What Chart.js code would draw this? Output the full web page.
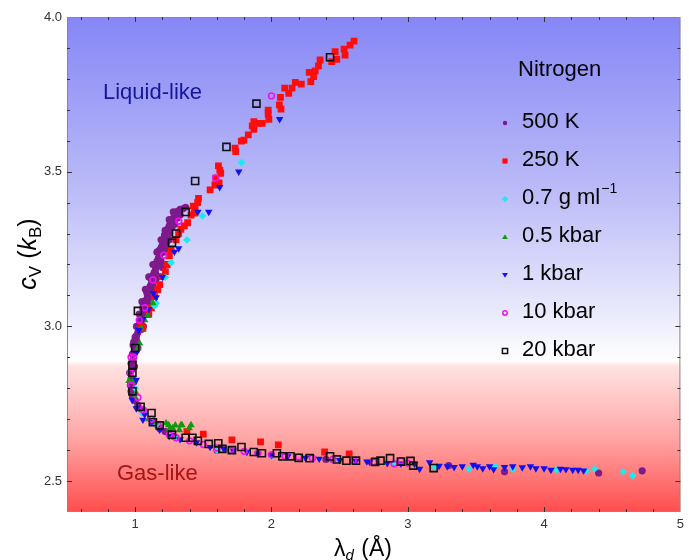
<!DOCTYPE html>
<html><head><meta charset="utf-8">
<script src="https://cdn.jsdelivr.net/npm/chart.js@4.4.0/dist/chart.umd.min.js"></script>
<style>html,body{margin:0;padding:0;background:#fff;}#wrap{width:689px;height:560px;position:relative;}</style>
</head><body><div id="wrap"><canvas id="c" width="689" height="560"></canvas></div>
<script>
// ---- tick labels / categories ----
const xTickLabels = [1, 2, 3, 4, 5];
const yTickLabels = [2.5, 3.0, 3.5, 4.0];
const seriesNames = ["500 K", "250 K", "0.7 g ml", "0.5 kbar", "1 kbar", "10 kbar", "20 kbar"];

// ---- series values [lambda_d (Å), c_V (k_B)] ----
const n500K = [[1.05,2.73],[1.02,2.745],[1.0,2.76],[0.98,2.775],[0.97,2.79],[0.965,2.81],[0.97,2.83],[0.96,2.85],[0.975,2.86],[0.97,2.88],[0.985,2.89],[0.98,2.91],[0.995,2.92],[1.0,2.94],[1.01,2.955],[1.0,2.965],[1.02,2.98],[1.03,2.99],[1.035,3.01],[1.04,3.02],[1.05,3.035],[1.06,3.05],[1.055,3.06],[1.07,3.07],[1.08,3.085],[1.09,3.1],[1.085,3.11],[1.1,3.12],[1.11,3.13],[1.12,3.14],[1.115,3.155],[1.13,3.165],[1.14,3.175],[1.15,3.185],[1.145,3.2],[1.16,3.21],[1.17,3.22],[1.18,3.23],[1.175,3.245],[1.19,3.255],[1.2,3.265],[1.21,3.275],[1.22,3.285],[1.215,3.295],[1.23,3.305],[1.24,3.315],[1.25,3.325],[1.26,3.335],[1.27,3.345],[1.28,3.35],[1.29,3.36],[1.3,3.365],[1.31,3.372],[1.33,3.378],[1.35,3.38],[1.37,3.385],[1.19,3.21],[1.21,3.24],[1.23,3.27],[1.25,3.3],[1.27,3.32],[1.15,3.15],[1.12,3.1],[1.09,3.05],[1.06,3.0],[1.2,3.19],[1.17,3.16],[1.14,3.12],[1.1,3.07],[1.29,3.33],[1.31,3.35],[1.33,3.36],[0.99,2.95],[1.01,2.97],[0.98,2.83],[0.985,2.8],[1.13,3.2],[1.16,3.24],[1.19,3.28],[1.22,3.31],[1.25,3.345],[1.28,3.37],[1.1,3.16],[1.075,3.12],[1.05,3.08],[1.03,3.04],[1.01,3.0],[0.985,2.94],[1.22,3.25],[1.25,3.28],[1.18,3.2],[1.15,3.17],[1.13,3.13],[1.1,3.09],[1.07,3.04],[1.045,2.99],[1.02,2.93],[0.995,2.87],[0.99,2.82],[1.22,2.66],[1.28,2.645],[1.18,2.67],[1.6,2.6],[2.4,2.57],[3.3,2.55],[3.71,2.53],[4.4,2.526],[4.72,2.533]];
const n250K = [[2.606,3.922],[2.577,3.909],[2.533,3.896],[2.467,3.888],[2.54,3.877],[2.479,3.863],[2.442,3.856],[2.357,3.861],[2.345,3.842],[2.321,3.826],[2.277,3.821],[2.309,3.807],[2.289,3.791],[2.219,3.783],[2.175,3.789],[2.151,3.77],[2.097,3.77],[2.127,3.753],[2.066,3.74],[2.058,3.716],[2.07,3.702],[1.976,3.699],[1.976,3.686],[1.981,3.669],[1.932,3.656],[1.908,3.656],[1.871,3.662],[1.859,3.648],[1.871,3.637],[1.83,3.619],[1.798,3.602],[1.779,3.599],[1.733,3.576],[1.738,3.565],[1.611,3.519],[1.621,3.505],[1.628,3.495],[1.592,3.479],[1.616,3.464],[1.585,3.457],[1.55,3.441],[1.465,3.414],[1.458,3.4],[1.426,3.389],[1.434,3.366],[1.44,3.38],[1.41,3.36],[1.385,3.335],[1.361,3.325],[1.336,3.314],[1.319,3.301],[1.3,3.28],[1.264,3.247],[1.251,3.228],[1.235,3.2],[1.222,3.177],[1.198,3.161],[1.18,3.135],[1.166,3.118],[1.142,3.096],[1.12,3.06],[1.1,3.04],[1.057,2.994],[1.045,3.005],[1.38,2.66],[1.5,2.652],[1.71,2.633],[1.92,2.627],[2.05,2.617],[2.39,2.594],[2.57,2.588]];
const n07gml = [[1.78,3.53],[1.494,3.357],[1.38,3.279],[1.264,3.206],[1.222,3.159],[1.154,3.075],[1.142,3.066],[1.0,2.8],[1.05,2.72],[1.15,2.68],[1.3,2.64],[1.6,2.6],[2.0,2.58],[2.5,2.565],[2.9,2.556],[3.2,2.545],[3.45,2.538],[3.64,2.547],[3.77,2.539],[4.09,2.536],[4.31,2.533],[4.37,2.54],[4.58,2.53],[4.65,2.517]];
const n05kbar = [[1.093,3.034],[1.07,3.02],[1.045,2.994],[1.032,2.945],[1.02,2.93],[0.984,2.821],[1.008,2.784],[1.13,3.075],[0.955,2.824],[0.996,2.773],[1.1,2.7],[1.15,2.69],[1.227,2.687],[1.251,2.667],[1.336,2.681],[1.41,2.681],[1.397,2.671],[1.324,2.665],[1.275,2.671],[1.246,2.681],[1.295,2.68],[1.343,2.681]];
const n1kbar = [[2.06,3.67],[1.76,3.5],[1.62,3.45],[1.54,3.37],[1.46,3.37],[1.319,3.252],[1.288,3.241],[1.2,3.16],[1.135,3.107],[1.154,3.094],[1.1,3.056],[1.057,3.023],[1.027,2.988],[1.008,2.913],[1.008,2.827],[0.978,2.762],[1.008,2.735],[1.057,2.698],[1.07,2.715],[1.12,2.69],[1.18,2.665],[1.25,2.645],[1.33,2.635],[1.45,2.625],[1.55,2.61],[1.65,2.605],[1.72,2.598],[1.82,2.594],[1.9,2.588],[2.0,2.584],[2.12,2.58],[2.25,2.575],[2.35,2.572],[2.5,2.568],[2.62,2.565],[2.7,2.563],[2.72,2.562],[2.85,2.558],[2.95,2.556],[3.05,2.555],[3.087,2.539],[3.16,2.56],[3.23,2.549],[3.29,2.547],[3.34,2.545],[3.4,2.547],[3.48,2.552],[3.51,2.547],[3.55,2.541],[3.6,2.547],[3.63,2.538],[3.71,2.545],[3.77,2.547],[3.84,2.544],[3.9,2.547],[3.94,2.541],[4.0,2.541],[4.05,2.536],[4.12,2.539],[4.16,2.538],[4.21,2.536],[4.25,2.536],[4.29,2.534]];
const n10kbar = [[2.0,3.745],[1.59,3.48],[1.32,3.34],[1.21,3.23],[1.13,3.15],[1.07,3.06],[1.03,3.02],[0.97,2.9],[0.99,2.9],[0.965,2.85],[0.97,2.81],[1.02,2.77],[1.06,2.73],[1.12,2.7],[1.17,2.68],[1.25,2.65],[1.3,2.64],[1.4,2.63],[1.5,2.618],[1.6,2.607],[1.7,2.6],[1.8,2.596],[1.9,2.59],[2.0,2.585],[2.1,2.58],[2.2,2.578],[2.3,2.574],[2.45,2.57],[2.6,2.566],[2.75,2.562],[2.9,2.556],[2.95,2.566],[3.0,2.558]];
const n20kbar = [[2.43,3.87],[1.89,3.72],[1.67,3.58],[1.44,3.47],[1.37,3.37],[1.3,3.3],[1.27,3.27],[1.02,3.05],[1.0,2.93],[0.98,2.875],[0.98,2.85],[0.98,2.79],[1.04,2.74],[1.12,2.72],[1.13,2.69],[1.18,2.68],[1.27,2.65],[1.37,2.64],[1.42,2.64],[1.46,2.63],[1.54,2.62],[1.61,2.622],[1.64,2.604],[1.71,2.6],[1.78,2.61],[1.87,2.594],[1.93,2.59],[2.04,2.59],[2.08,2.58],[2.14,2.58],[2.2,2.575],[2.28,2.574],[2.43,2.58],[2.48,2.57],[2.55,2.566],[2.62,2.566],[2.76,2.562],[2.8,2.566],[2.87,2.574],[2.95,2.563],[3.02,2.565],[3.04,2.55],[3.19,2.542]];

// ---- styles ----
const styles = [
  {color:'#7d1a8c', style:'circle', r:3.6, fill:true, rot:0},
  {color:'#ff0d0d', style:'rect', r:4.8, fill:true, rot:0},
  {color:'#1ee8f0', style:'rectRot', r:3.8, fill:true, rot:0},
  {color:'#109a10', style:'triangle', r:4.3, fill:true, rot:0},
  {color:'#1010f0', style:'triangle', r:4.3, fill:true, rot:180},
  {color:'#f010f0', style:'circle', r:2.9, fill:false, rot:0},
  {color:'#111111', style:'rect', r:5.0, fill:false, rot:0}
];
const allSeries = [n500K, n250K, n07gml, n05kbar, n1kbar, n10kbar, n20kbar];

const datasets = allSeries.map((s, i) => ({
  label: seriesNames[i],
  data: s.map(p => ({x: p[0], y: p[1]})),
  pointStyle: styles[i].style,
  pointRadius: styles[i].r,
  pointRotation: styles[i].rot,
  pointBackgroundColor: styles[i].fill ? styles[i].color : 'rgba(0,0,0,0)',
  pointBorderColor: styles[i].color,
  pointBorderWidth: styles[i].fill ? 0 : 1.6,
  showLine: false,
  order: allSeries.length - i
}));

const FONT = '"Liberation Sans", Arial, sans-serif';

const bgPlugin = {
  id: 'bg',
  beforeDatasetsDraw(chart) {
    const {ctx, chartArea: a} = chart;
    const g = ctx.createLinearGradient(0, a.top, 0, a.bottom);
    g.addColorStop(0, '#8686f6');
    g.addColorStop(0.35, '#bbbbf8');
    g.addColorStop(0.62, '#eeeefd');
    g.addColorStop(0.695, '#ffffff');
    g.addColorStop(0.705, '#ffe2e2');
    g.addColorStop(0.85, '#ffa6a6');
    g.addColorStop(1, '#ff4d4d');
    ctx.save();
    ctx.fillStyle = g;
    ctx.fillRect(a.left, a.top, a.right - a.left, a.bottom - a.top);
    ctx.restore();
  }
};

function marker(ctx, st, x, y, r) {
  ctx.save();
  ctx.fillStyle = st.color; ctx.strokeStyle = st.color; ctx.lineWidth = 1.5;
  ctx.beginPath();
  if (st.style === 'circle') { ctx.arc(x, y, r, 0, Math.PI*2); }
  else if (st.style === 'rect') { ctx.rect(x - r, y - r, 2*r, 2*r); }
  else if (st.style === 'rectRot') { ctx.moveTo(x, y - r*1.2); ctx.lineTo(x + r*1.2, y); ctx.lineTo(x, y + r*1.2); ctx.lineTo(x - r*1.2, y); ctx.closePath(); }
  else if (st.style === 'triangle') {
    const d = st.rot ? -1 : 1;
    ctx.moveTo(x, y - d*r*1.1); ctx.lineTo(x + r*1.1, y + d*r*0.8); ctx.lineTo(x - r*1.1, y + d*r*0.8); ctx.closePath();
  }
  if (st.fill) ctx.fill(); else ctx.stroke();
  ctx.restore();
}

const overlayPlugin = {
  id: 'overlay',
  afterDraw(chart) {
    const {ctx, chartArea: a, scales} = chart;
    const xs = scales.x, ys = scales.y;
    ctx.save();
    // frame
    ctx.strokeStyle = '#8a8a8a'; ctx.lineWidth = 1;
    ctx.strokeRect(a.left + 0.5, a.top + 0.5, a.right - a.left - 1, a.bottom - a.top - 1);
    // inward ticks
    ctx.strokeStyle = '#333'; ctx.lineWidth = 1;
    ctx.beginPath();
    for (let v = 0.6; v < 5.0 - 1e-6; v += 0.2) {
      const px = Math.round(xs.getPixelForValue(v)) + 0.5;
      const major = Math.abs(v - Math.round(v)) < 1e-6;
      const L = major ? 5 : 3;
      ctx.moveTo(px, a.bottom); ctx.lineTo(px, a.bottom - L);
      ctx.moveTo(px, a.top); ctx.lineTo(px, a.top + L);
    }
    for (let v = 2.5; v < 4.0 - 1e-6; v += 0.1) {
      const py = Math.round(ys.getPixelForValue(v)) + 0.5;
      const major = Math.abs(v*2 - Math.round(v*2)) < 1e-6;
      const L = major ? 5 : 3;
      ctx.moveTo(a.left, py); ctx.lineTo(a.left + L, py);
      ctx.moveTo(a.right, py); ctx.lineTo(a.right - L, py);
    }
    ctx.stroke();

    // region labels
    ctx.font = '22px ' + FONT; ctx.textBaseline = 'alphabetic'; ctx.textAlign = 'left';
    ctx.fillStyle = '#16169a'; ctx.fillText('Liquid-like', 103, 99);
    ctx.fillStyle = '#a81414'; ctx.fillText('Gas-like', 117, 480);

    // legend
    ctx.fillStyle = '#000';
    ctx.font = '22px ' + FONT;
    ctx.fillText('Nitrogen', 518, 76);
    const lg0 = 128, lgStep = 38;
    const legSizes = [2.2, 2.6, 2.6, 2.6, 2.6, 2.2, 2.6];
    seriesNames.forEach((n, i) => {
      const by = lg0 + i * lgStep;
      marker(ctx, styles[i], 505, by - 5, legSizes[i]);
      ctx.fillStyle = '#000';
      ctx.font = '22px ' + FONT;
      ctx.fillText(n, 522, by);
      if (i === 2) {
        const w = ctx.measureText(n).width;
        ctx.font = '14px ' + FONT;
        ctx.fillText('\u22121', 522 + w + 1, by - 11);
      }
    });

    // x axis title: λ_d (Å)
    ctx.fillStyle = '#000';
    let xx = 334, xb = 556;
    ctx.font = '23px ' + FONT; ctx.fillText('\u03bb', xx, xb); xx += ctx.measureText('\u03bb').width;
    ctx.font = 'italic 15px ' + FONT; ctx.fillText('d', xx, xb + 4); xx += ctx.measureText('d').width + 1;
    ctx.font = '23px ' + FONT; ctx.fillText(' (\u00c5)', xx, xb);

    // y axis title: c_V (k_B)
    ctx.translate(36, 254); ctx.rotate(-Math.PI/2);
    const parts = [
      {t:'c', f:'italic 25px ', dy:0},
      {t:'V', f:'17px ', dy:5},
      {t:' (', f:'25px ', dy:0},
      {t:'k', f:'italic 25px ', dy:0},
      {t:'B', f:'17px ', dy:5},
      {t:')', f:'25px ', dy:0}
    ];
    let tw = 0;
    parts.forEach(p => { ctx.font = p.f + FONT; p.w = ctx.measureText(p.t).width; tw += p.w; });
    let cx = -tw/2;
    parts.forEach(p => { ctx.font = p.f + FONT; ctx.fillText(p.t, cx, p.dy); cx += p.w; });
    ctx.restore();
  }
};

new Chart(document.getElementById('c'), {
  type: 'scatter',
  data: { datasets },
  options: {
    responsive: false, animation: false, devicePixelRatio: 1,
    layout: { padding: { top: 17, right: 5, left: 0, bottom: 0 } },
    plugins: { legend: { display: false }, tooltip: { enabled: false } },
    scales: {
      x: {
        type: 'linear', min: 0.5, max: 5,
        afterBuildTicks: s => { s.ticks = xTickLabels.map(v => ({ value: v })); },
        afterFit: s => { s.height = 48; },
        grid: { display: false, drawTicks: false },
        border: { display: false },
        ticks: { padding: 5, color: '#333', font: { size: 13, family: FONT }, callback: v => String(v), maxRotation: 0, autoSkip: false }
      },
      y: {
        type: 'linear', min: 2.4, max: 4.0,
        afterBuildTicks: s => { s.ticks = yTickLabels.map(v => ({ value: v })); },
        afterFit: s => { s.width = 67; },
        grid: { display: false, drawTicks: false },
        border: { display: false },
        ticks: { padding: 5, color: '#333', font: { size: 13, family: FONT }, callback: v => Number(v).toFixed(1), autoSkip: false }
      }
    }
  },
  plugins: [bgPlugin, overlayPlugin]
});
</script>
</body></html>
